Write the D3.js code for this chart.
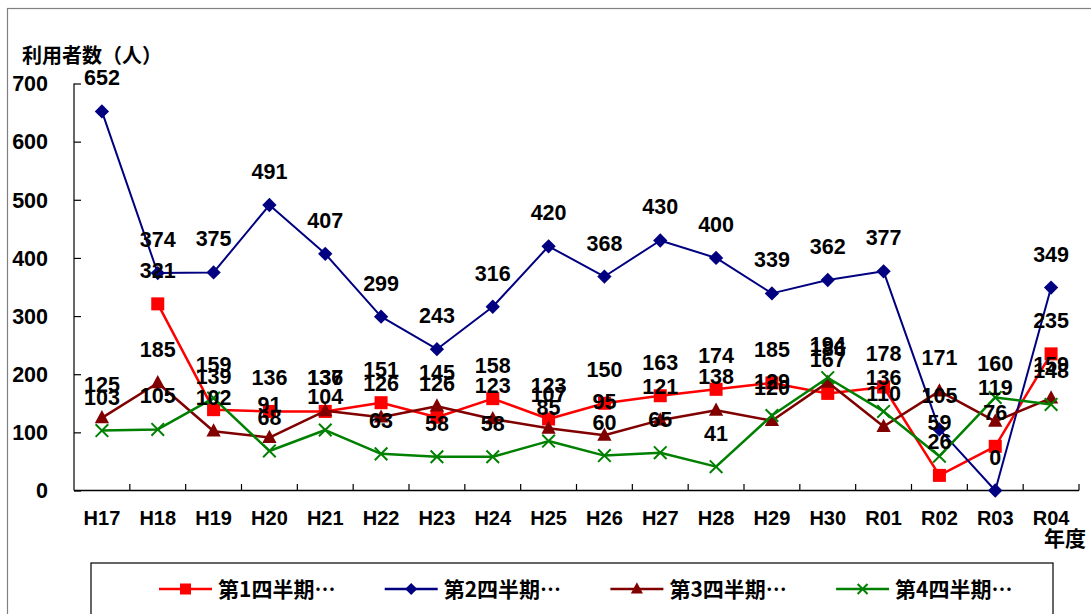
<!DOCTYPE html>
<html><head><meta charset="utf-8">
<script src="https://cdn.jsdelivr.net/npm/d3@7"></script>
<style>
html,body{margin:0;padding:0;background:#fff;}
svg{display:block;}
</style></head>
<body>
<svg id="c" width="1091" height="614"></svg>
<script>
const categories = ["H17","H18","H19","H20","H21","H22","H23","H24","H25","H26","H27","H28","H29","H30","R01","R02","R03","R04"];
const q1 = [null,321,139,136,136,151,126,158,123,150,163,174,185,167,178,26,76,235];
const q2 = [652,374,375,491,407,299,243,316,420,368,430,400,339,362,377,105,0,349];
const q3 = [125,185,102,91,137,126,145,123,107,95,121,138,120,186,110,171,119,159];
const q4 = [103,105,159,68,104,63,58,58,85,60,65,41,129,194,136,59,160,148];
const seriesNames = ["第1四半期…","第2四半期…","第3四半期…","第4四半期…"];
const yTicks = [0,100,200,300,400,500,600,700];
const yTitle = "利用者数（人）";
const xTitle = "年度";

const series = [
  {name: seriesNames[0], values: q1, color: "#FF0000", marker: "square", width: 2.5},
  {name: seriesNames[1], values: q2, color: "#000080", marker: "diamond", width: 2},
  {name: seriesNames[2], values: q3, color: "#800000", marker: "triangle", width: 2.5},
  {name: seriesNames[3], values: q4, color: "#008000", marker: "cross", width: 2.5}
];

const svg = d3.select("#c");
const numFont = "'Liberation Sans', Arial, sans-serif";
const cjkFont = "'Noto Sans CJK JP', 'Noto Sans CJK SC', sans-serif";

// outer border
svg.append("rect").attr("x",7.5).attr("y",8.5).attr("width",1200).attr("height",800)
  .attr("fill","none").attr("stroke","#808080").attr("stroke-width",1.2);

const x = d3.scaleBand().domain(categories).range([74,1079]).padding(0);
const y = d3.scaleLinear().domain([0,700]).range([490.5,83.5]);

// axes
const yAxis = d3.axisRight(y).tickValues(yTicks).tickSize(7).tickFormat("");
const gy = svg.append("g").attr("transform","translate(74,0)").call(yAxis);
gy.selectAll("path,line").attr("stroke","#000").attr("stroke-width",1.2);
gy.select(".domain").attr("d","M0,83.5V490.5");

svg.selectAll(".ytl").data(yTicks).join("text").attr("class","ytl")
  .attr("x",48).attr("y",d=>y(d)).attr("dy","0.36em").attr("text-anchor","end")
  .attr("font-family",numFont).attr("font-weight","bold").attr("font-size",21.5)
  .attr("fill","#000").text(d=>d);

const xAxis = d3.axisTop(x).tickSize(0).tickFormat("");
const gx = svg.append("g").attr("transform","translate(0,490.5)").call(xAxis);
gx.select(".domain").attr("d","M74,0H1079").attr("stroke","#000").attr("stroke-width",1.5);
// boundary ticks (inside, upward)
const bounds = categories.map(c=>x(c)).concat([x(categories[categories.length-1])+x.bandwidth()]);
svg.append("g").selectAll("line").data(bounds.slice(1)).join("line")
  .attr("x1",d=>d).attr("x2",d=>d).attr("y1",490.5).attr("y2",484)
  .attr("stroke","#000").attr("stroke-width",1.2);

svg.selectAll(".xtl").data(categories).join("text").attr("class","xtl")
  .attr("x",d=>x(d)+x.bandwidth()/2).attr("y",525).attr("text-anchor","middle")
  .attr("font-family",numFont).attr("font-weight","bold").attr("font-size",20)
  .attr("fill","#000").text(d=>d);

svg.append("text").attr("x",1086).attr("y",546).attr("text-anchor","end")
  .attr("font-family",cjkFont).attr("font-weight","bold").attr("font-size",21)
  .attr("fill","#000").text(xTitle);

svg.append("text").attr("x",22).attr("y",63)
  .attr("font-family",cjkFont).attr("font-weight","bold").attr("font-size",20)
  .attr("fill","#000").text(yTitle);

// marker drawing
function drawMarker(g, type, color, cx, cy, s){
  if(type==="square"){
    g.append("rect").attr("x",cx-s/2).attr("y",cy-s/2).attr("width",s).attr("height",s).attr("fill",color);
  } else if(type==="diamond"){
    const r=s*0.55;
    g.append("path").attr("d",`M${cx},${cy-r}L${cx+r},${cy}L${cx},${cy+r}L${cx-r},${cy}Z`).attr("fill",color);
  } else if(type==="triangle"){
    const r=s*0.55;
    g.append("path").attr("d",`M${cx},${cy-r*1.1}L${cx+r},${cy+r*0.75}L${cx-r},${cy+r*0.75}Z`).attr("fill",color);
  } else if(type==="cross"){
    const r=s*0.45;
    g.append("path").attr("d",`M${cx-r},${cy-r}L${cx+r},${cy+r}M${cx-r},${cy+r}L${cx+r},${cy-r}`)
      .attr("stroke",color).attr("stroke-width",2).attr("fill","none");
  }
}

const plot = svg.append("g");
const cx = d=>x(d)+x.bandwidth()/2;
series.forEach(s=>{
  const pts = categories.map((c,i)=>({c, v:s.values[i]})).filter(d=>d.v!==null);
  const line = d3.line().x(d=>cx(d.c)).y(d=>y(d.v));
  plot.append("path").datum(pts).attr("d",line).attr("fill","none")
    .attr("stroke",s.color).attr("stroke-width",s.width).attr("stroke-linejoin","round");
  const mg = plot.append("g");
  pts.forEach(d=>drawMarker(mg, s.marker, s.color, cx(d.c), y(d.v), s.marker==="cross"?14:13));
});
// data labels
const lg = svg.append("g");
series.forEach(s=>{
  const pts = categories.map((c,i)=>({c, v:s.values[i]})).filter(d=>d.v!==null);
  lg.selectAll(null).data(pts).join("text")
    .attr("x",d=>cx(d.c)).attr("y",d=>y(d.v)-26).attr("text-anchor","middle")
    .attr("font-family",numFont).attr("font-weight","bold").attr("font-size",21.5)
    .attr("fill","#000").text(d=>d.v);
});

// legend
svg.append("rect").attr("x",91).attr("y",563).attr("width",962).attr("height",100)
  .attr("fill","none").attr("stroke","#000").attr("stroke-width",1.2);
const leg = svg.append("g");
series.forEach((s,i)=>{
  const lx = 159 + i*225.7, ly = 589;
  leg.append("line").attr("x1",lx).attr("x2",lx+53).attr("y1",ly).attr("y2",ly)
    .attr("stroke",s.color).attr("stroke-width",2.5);
  drawMarker(leg, s.marker, s.color, lx+26.5, ly, 11);
  leg.append("text").attr("x",lx+59).attr("y",ly+8).attr("font-family",cjkFont)
    .attr("font-weight","bold").attr("font-size",21).attr("fill","#000").text(s.name);
});
</script>
</body></html>
